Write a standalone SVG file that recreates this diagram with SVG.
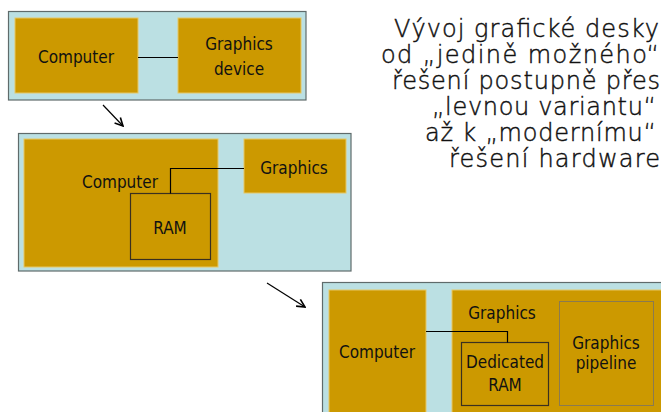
<svg xmlns="http://www.w3.org/2000/svg" width="661" height="412" viewBox="0 0 661 412">
<defs>
<style>
.outer{fill:#bbe0e3;stroke:#5f6b6b;stroke-width:1.2}
.gold{fill:#cc9900;stroke:#e6c766;stroke-width:1}
.ram{fill:#cc9900;stroke:#3a3020;stroke-width:1.2}
.pipe{fill:#cc9900;stroke:#8a7a50;stroke-width:1}
.lbl{font-family:"DejaVu Sans Condensed","DejaVu Sans",sans-serif;font-size:17px;fill:#111;text-anchor:middle}
.cap{font-family:"DejaVu Sans","Liberation Sans",sans-serif;font-weight:200;font-size:24px;fill:#111;stroke:#111;stroke-width:0.45;text-anchor:end}
.wire{fill:none;stroke:#000;stroke-width:1.2}
</style>
<marker id="ah" markerWidth="10" markerHeight="10" refX="9" refY="5" orient="auto" markerUnits="userSpaceOnUse">
<path d="M1,1 L9,5 L1,9" fill="none" stroke="#000" stroke-width="1.6"/>
</marker>
</defs>

<g id="stage1">
<rect class="outer" x="8.5" y="11.5" width="297.5" height="88.5"/>
<g id="computer1"><rect class="gold" x="15" y="18" width="123" height="75"/><text class="lbl" x="76" y="63">Computer</text></g>
<g id="graphics1"><rect class="gold" x="178" y="18" width="123" height="75"/><text class="lbl" x="239" y="50">Graphics</text><text class="lbl" x="239" y="75">device</text></g>
</g>

<g id="stage2">
<rect class="outer" x="18.5" y="133.5" width="332.5" height="137.5"/>
<g id="computer2"><rect class="gold" x="24" y="139" width="194" height="128"/><text class="lbl" x="120" y="188">Computer</text></g>
<g id="ram2"><rect class="ram" x="130.5" y="193.5" width="80" height="66"/><text class="lbl" x="170" y="234">RAM</text></g>
<g id="graphics2"><rect class="gold" x="244" y="139" width="102" height="54"/><text class="lbl" x="294" y="174">Graphics</text></g>
</g>

<g id="stage3">
<rect class="outer" x="322.5" y="282.5" width="400" height="200"/>
<g id="computer3"><rect class="gold" x="329" y="290" width="97" height="140"/><text class="lbl" x="377" y="358">Computer</text></g>
<g id="graphics3"><rect class="gold" x="452" y="290" width="260" height="140"/><text class="lbl" x="502" y="319">Graphics</text></g>
<g id="dram3"><rect class="ram" x="461.5" y="342.5" width="87" height="63"/><text class="lbl" x="505" y="368">Dedicated</text><text class="lbl" x="505" y="391">RAM</text></g>
<g id="pipeline3"><rect class="pipe" x="559.5" y="301.5" width="94" height="104"/><text class="lbl" x="606" y="349">Graphics</text><text class="lbl" x="606" y="369">pipeline</text></g>
</g>

<g id="connectors">
<line class="wire" x1="138" y1="57.5" x2="178" y2="57.5"/>
<polyline class="wire" points="170.5,193.5 170.5,168.5 244,168.5"/>
<polyline class="wire" points="426,331.5 507.5,331.5 507.5,342.5"/>
<line class="wire" x1="103" y1="105" x2="123" y2="126" marker-end="url(#ah)" stroke-width="1.6"/>
<line class="wire" x1="267" y1="283" x2="305" y2="307" marker-end="url(#ah)" stroke-width="1.6"/>
</g>

<g id="caption">
<text class="cap" x="659" y="37" textLength="265" lengthAdjust="spacing">Vývoj grafické desky</text>
<text class="cap" x="659" y="63" textLength="278" lengthAdjust="spacing">od „jedině možného“</text>
<text class="cap" x="660" y="89" textLength="268" lengthAdjust="spacing">řešení postupně přes</text>
<text class="cap" x="656" y="115" textLength="224" lengthAdjust="spacing">„levnou variantu“</text>
<text class="cap" x="656" y="141" textLength="231" lengthAdjust="spacing">až k „modernímu“</text>
<text class="cap" x="660" y="167" textLength="211" lengthAdjust="spacing">řešení hardware</text>
</g>
</svg>
